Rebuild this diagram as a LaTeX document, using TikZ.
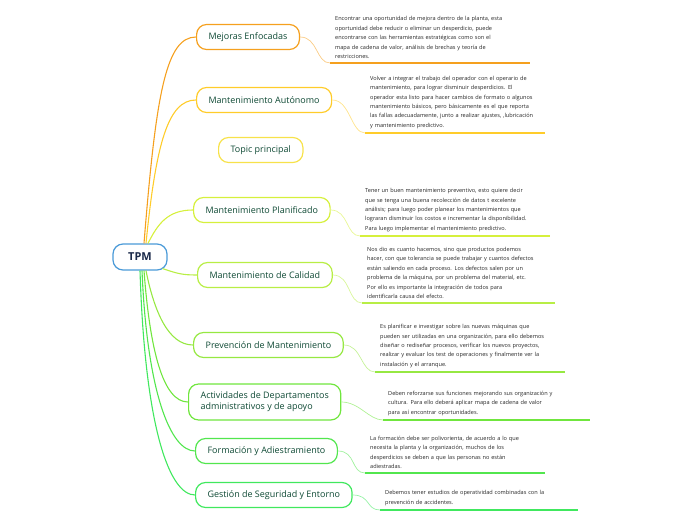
\documentclass[tikz,border=0pt]{standalone}
\usepackage{fontspec}
\setmainfont{Open Sans}
\usepackage{xcolor}
\usepackage{tikz}
\usetikzlibrary{positioning,calc}
\definecolor{cMejoras}{HTML}{F5A01E}
\definecolor{cAutonomo}{HTML}{FFCC2A}
\definecolor{cTopic}{HTML}{F7E24A}
\definecolor{cPlanif}{HTML}{D6F03C}
\definecolor{cCalidad}{HTML}{B8EE45}
\definecolor{cPrev}{HTML}{96E842}
\definecolor{cActiv}{HTML}{70E63E}
\definecolor{cForm}{HTML}{52E64E}
\definecolor{cGest}{HTML}{40E85E}
\definecolor{cTPM}{HTML}{4A9AD8}
\definecolor{topictext}{HTML}{0F4A35}
\definecolor{tpmtext}{HTML}{1B2A4A}
\tikzset{
  topicbox/.style={draw=#1,line width=1.2bp,fill=white,rounded corners=10bp,
    minimum height=25bp,inner xsep=12bp,align=left,anchor=west,
    font=\fontsize{9}{11}\selectfont,text=topictext},
  centralbox/.style={draw=cTPM,line width=1.2bp,fill=white,rounded corners=10bp,
    minimum height=26bp,minimum width=54bp,font=\fontsize{11}{13}\selectfont\bfseries,
    text=tpmtext},
  notebox/.style={anchor=south west,inner xsep=5bp,inner ysep=4bp,align=left,
    font=\fontsize{5.6}{9.5}\selectfont,text=black!85},
  branchline/.style={draw=#1,line width=1.1bp},
  twigline/.style={draw=#1!55,line width=0.7bp},
  underline/.style={draw=#1,line width=1.4bp}
}
\begin{document}
\begin{tikzpicture}[x=1bp,y=-1bp]
  \useasboundingbox (0,0) rectangle (696,520);
  % centre
  \node[centralbox] (tpm) at (140,257) {TPM};
  % topics
  \node[topicbox=cMejoras] (mejoras) at (196,37) {Mejoras Enfocadas};
  \node[topicbox=cAutonomo] (autonomo) at (196,100) {Mantenimiento Autónomo};
  \node[topicbox=cTopic] (topic) at (218,150) {Topic principal};
  \node[topicbox=cPlanif] (planif) at (193,210) {Mantenimiento Planificado};
  \node[topicbox=cCalidad] (calidad) at (197,275) {Mantenimiento de Calidad};
  \node[topicbox=cPrev] (prev) at (193,345) {Prevención de Mantenimiento};
  \node[topicbox=cActiv,minimum height=36bp] (activ) at (188,402)
    {Actividades de Departamentos\\administrativos y de apoyo};
  \node[topicbox=cForm] (form) at (195,451) {Formación y Adiestramiento};
  \node[topicbox=cGest] (gest) at (195,495) {Gestión de Seguridad y Entorno};
  % notes
  \node[notebox,text width=190bp] (nMejoras) at (330,63)
    {Encontrar una oportunidad de mejora dentro de la planta, esta\\
     oportunidad debe reducir o eliminar un desperdicio, puede\\
     encontrarse con las herramientas estratégicas como son el\\
     mapa de cadena de valor, análisis de brechas y teoría de\\
     restricciones.};
  \node[notebox,text width=170bp] (nAutonomo) at (365,133)
    {Volver a integrar el trabajo del operador con el operario de\\
     mantenimiento, para lograr disminuir desperdicios. El\\
     operador esta listo para hacer cambios de formato o algunos\\
     mantenimiento básicos, pero básicamente es el que reporta\\
     las fallas adecuadamente, junto a realizar ajustes, ,lubricación\\
     y mantenimiento predictivo.};
  \node[notebox,text width=180bp] (nPlanif) at (360,236)
    {Tener un buen mantenimiento preventivo, esto quiere decir\\
     que se tenga una buena recolección de datos t excelente\\
     análisis; para luego poder planear los mantenimientos que\\
     lograran disminuir los costos e incrementar la disponibilidad.\\
     Para luego implementar el mantenimiento predictivo.};
  \node[notebox,text width=183bp] (nCalidad) at (362,303)
    {Nos dio es cuanto hacemos, sino que productos podemos\\
     hacer, con que tolerancia se puede trabajar y cuantos defectos\\
     están saliendo en cada proceso. Los defectos salen por un\\
     problema de la máquina, por un problema del material, etc.\\
     Por ello es importante la integración de todos para\\
     identificarla causa del efecto.};
  \node[notebox,text width=180bp] (nPrev) at (375,372)
    {Es planificar e investigar sobre las nuevas máquinas que\\
     pueden ser utilizadas en una organización, para ello debemos\\
     diseñar o rediseñar procesos, verificar los nuevos proyectos,\\
     realizar y evaluar los test de operaciones y finalmente ver la\\
     instalación y el arranque.};
  \node[notebox,text width=197bp] (nActiv) at (383,420)
    {Deben reforzarse sus funciones mejorando sus organización y\\
     cultura. Para ello deberá aplicar mapa de cadena de valor\\
     para así encontrar oportunidades.};
  \node[notebox,text width=170bp] (nForm) at (365,473)
    {La formación debe ser polivorienta, de acuerdo a lo que\\
     necesita la planta y la organización, muchos de los\\
     desperdicios se deben a que las personas no están\\
     adiestradas.};
  \node[notebox,text width=188bp] (nGest) at (380,510)
    {Debemos tener estudios de operatividad combinadas con la\\
     prevención de accidentes.};
  % branches
  \draw[branchline=cMejoras] ([xshift=4bp]tpm.north) .. controls +(12,-150) and +(-30,0) .. (mejoras.west);
  \draw[branchline=cAutonomo] ([xshift=6bp]tpm.north) .. controls +(10,-100) and +(-28,0) .. (autonomo.west);
  \draw[branchline=cPlanif] ([xshift=8bp]tpm.north) .. controls +(10,-20) and +(-25,0) .. (planif.west);
  \draw[branchline=cCalidad] ([xshift=-5bp,yshift=2bp]tpm.south east) .. controls +(15,5) and +(-15,0) .. (calidad.west);
  \draw[branchline=cPrev] ([xshift=6bp]tpm.south) .. controls +(8,40) and +(-25,0) .. (prev.west);
  \draw[branchline=cActiv] ([xshift=4bp]tpm.south) .. controls +(6,80) and +(-25,0) .. (activ.west);
  \draw[branchline=cForm] ([xshift=2bp]tpm.south) .. controls +(5,120) and +(-25,0) .. (form.west);
  \draw[branchline=cGest] (tpm.south) .. controls +(5,160) and +(-25,0) .. (gest.west);
  % twigs to notes
  \foreach \t/\n/\c in {mejoras/nMejoras/cMejoras,autonomo/nAutonomo/cAutonomo,
      planif/nPlanif/cPlanif,calidad/nCalidad/cCalidad,prev/nPrev/cPrev,
      activ/nActiv/cActiv,form/nForm/cForm,gest/nGest/cGest}{
    \draw[twigline=\c] (\t.east) .. controls +(18,0) and +(-14,0) .. (\n.south west);
    \draw[underline=\c] (\n.south west) -- (\n.south east);
  }
\end{tikzpicture}
\end{document}
